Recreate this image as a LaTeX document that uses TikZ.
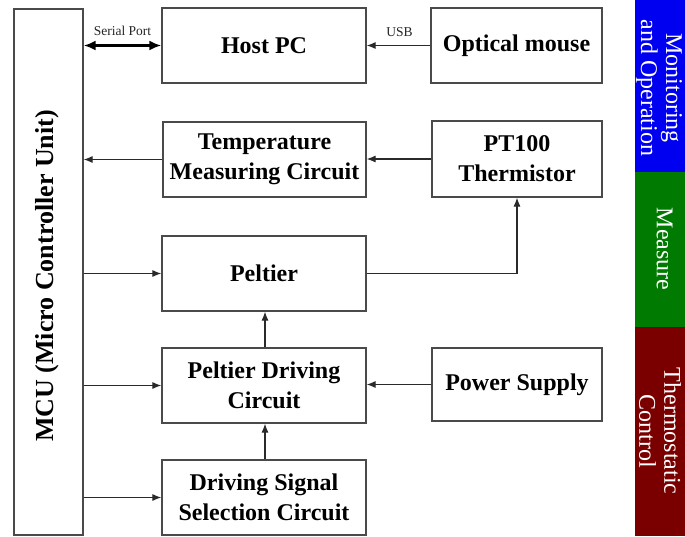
\documentclass[tikz,border=0pt]{standalone}
\usepackage{fontspec}
\setmainfont{Liberation Serif}
\usetikzlibrary{arrows.meta}
\definecolor{boxline}{HTML}{4A4A4A}
\definecolor{arrline}{HTML}{2A2A2A}
\definecolor{barblue}{HTML}{0000F0}
\definecolor{bargreen}{HTML}{007A00}
\definecolor{barred}{HTML}{7A0000}
\tikzset{
  blk/.style={draw=boxline, line width=1.2pt, inner sep=0pt, align=center,
    font=\fontsize{24}{30}\selectfont\bfseries},
  conn/.style={draw=arrline, line width=1.1pt, -{Latex[length=9pt,width=7pt]}},
  serial/.style={draw=black, line width=2.4pt, {Latex[length=12pt,width=10pt]}-{Latex[length=12pt,width=10pt]}},
  lbl/.style={font=\fontsize{13.5}{15}\selectfont, text=black!85, inner sep=0pt},
  bartext/.style={text=white, font=\fontsize{24}{25}\selectfont, align=center, inner sep=0pt, rotate=-90}
}
\begin{document}
\begin{tikzpicture}[x=1pt,y=-1pt]
\useasboundingbox (0,0) rectangle (685,536);
\fill[white] (0,0) rectangle (685,536);

% boxes
\node[blk, minimum width=69pt, minimum height=526pt] (mcu) at (48.5,272) {};
\node[font=\fontsize{26}{30}\selectfont\bfseries, rotate=90, inner sep=0pt] (mcutext) at (47,276) {MCU (Micro Controller Unit)};
\node[blk, minimum width=204pt, minimum height=75pt] (host) at (264,45.5) {Host PC};
\node[blk, minimum width=171pt, minimum height=75pt] (mouse) at (516.5,45.5) {Optical mouse};
\node[blk, minimum width=203pt, minimum height=75pt] (tmc) at (264.5,159.5) {Temperature\\Measuring Circuit};
\node[blk, minimum width=170pt, minimum height=76pt] (pt) at (517,159) {PT100\\Thermistor};
\node[blk, minimum width=204pt, minimum height=75pt] (pel) at (264,273.5) {Peltier};
\node[blk, minimum width=204pt, minimum height=75pt] (pdc) at (264,385.5) {Peltier Driving\\Circuit};
\node[blk, minimum width=170pt, minimum height=73pt] (pow) at (517,384.5) {Power Supply};
\node[blk, minimum width=204pt, minimum height=75pt] (dss) at (264,497.5) {Driving Signal\\Selection Circuit};

% connectors
\draw[serial] (mcu.east |- host) -- (host.west);
\node[lbl] (serlbl) at (122.5,30.5) {Serial Port};
\draw[conn] (mouse.west) -- (host.east);
\node[lbl] (usblbl) at (399.5,32.5) {USB};
\draw[conn] (tmc.west) -- (mcu.east |- tmc);
\draw[conn] (pt.west) -- (tmc.east |- pt.west);
\draw[conn] (mcu.east |- pel) -- (pel.west);
\draw[conn] (pel.east) -| (pt.south);
\draw[conn] ([xshift=1pt]pdc.north) -- ([xshift=1pt]pel.south);
\draw[conn] (mcu.east |- pdc) -- (pdc.west);
\draw[conn] (pow.west) -- (pdc.east |- pow.west);
\draw[conn] ([xshift=1pt]dss.north) -- ([xshift=1pt]pdc.south);
\draw[conn] (mcu.east |- dss) -- (dss.west);

% side bars
\fill[barblue] (635,0) rectangle (685,172);
\fill[bargreen] (635,172) rectangle (685,327);
\fill[barred] (635,327) rectangle (685,536);
\node[bartext] (mon) at (659,88) {Monitoring\\and Operation};
\node[bartext] (meas) at (664.5,249) {Measure};
\node[bartext] (thermo) at (660,431) {Thermostatic\\Control};
\end{tikzpicture}
\end{document}
